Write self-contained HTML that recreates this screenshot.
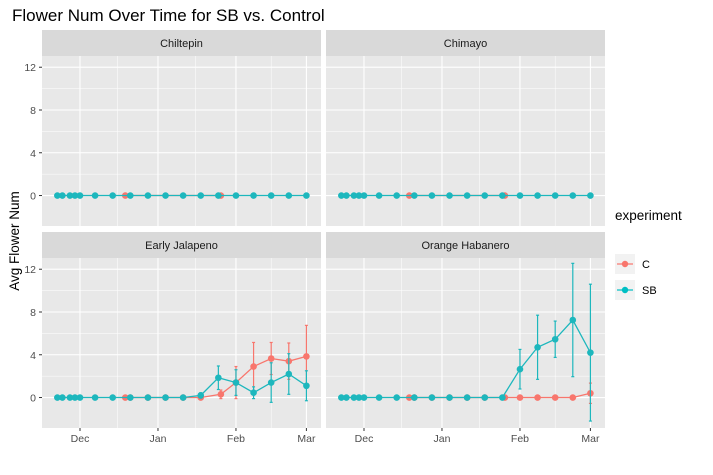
<!DOCTYPE html>
<html><head><meta charset="utf-8"><style>
body{margin:0;background:#fff;}
svg text{font-family:"Liberation Sans",sans-serif;}
</style></head><body>
<svg id="chart" width="713" height="470" xmlns="http://www.w3.org/2000/svg">
<text x="12" y="21" font-size="17" fill="#000">Flower Num Over Time for SB vs. Control</text>
<text transform="translate(19,241) rotate(-90)" text-anchor="middle" font-size="13.5" fill="#000">Avg Flower Num</text>
<g id="panels"></g>
<g>
<text x="615" y="220" font-size="13.5" fill="#000">experiment</text>
<rect x="615" y="254" width="20" height="20" fill="#f2f2f2"/>
<line x1="617" y1="264" x2="633" y2="264" stroke="#F8766D" stroke-width="1.2"/>
<circle cx="625" cy="264" r="3.2" fill="#F8766D"/>
<text x="642" y="268" font-size="11" fill="#000">C</text>
<rect x="615" y="280" width="20" height="20" fill="#f2f2f2"/>
<line x1="617" y1="290" x2="633" y2="290" stroke="#00BFC4" stroke-width="1.2"/>
<circle cx="625" cy="290" r="3.2" fill="#00BFC4"/>
<text x="642" y="294" font-size="11" fill="#000">SB</text>
</g>
</svg>
<script>
// days relative to Dec 1
const panelNames = ["Chiltepin","Chimayo","Early Jalapeno","Orange Habanero"];
const cDaysTop = [18,56];
const sbDays = [-9,-7,-4,-2,0,6,13,20,27,34,41,48,55,62,69,76,83,90];
const cDays = [18,20,27,34,41,48,56,62,69,76,83,90];
const jalC = [0,0,0,0,0,0,0.3,1.4,2.9,3.65,3.4,3.85];
const jalCErr = [0,0,0,0,0,0,0.4,1.5,2.25,1.5,1.7,2.9];
const jalSB = [0,0,0,0,0,0,0,0,0,0,0,0.2,1.85,1.4,0.45,1.4,2.2,1.1];
const jalSBErr = [0,0,0,0,0,0,0,0,0,0,0,0.25,1.1,1.2,0.55,1.85,1.9,1.4];
const habC = [0,0,0,0,0,0,0,0,0,0,0,0.4];
const habCErr = [0,0,0,0,0,0,0,0,0,0,0,0.95];
const habSB = [0,0,0,0,0,0,0,0,0,0,0,0,0,2.65,4.7,5.45,7.25,4.2];
const habSBErr = [0,0,0,0,0,0,0,0,0,0,0,0,0,1.85,3,1.7,5.3,6.4];
const yTicks = [0,4,8,12];
const xTickDays = [0,31,62,90];
const xTickLabels = ["Dec","Jan","Feb","Mar"];

const NS="http://www.w3.org/2000/svg";
const g=document.getElementById("panels");
function mk(tag,attrs,parent){const e=document.createElementNS(NS,tag);for(const k in attrs)e.setAttribute(k,attrs[k]);(parent||g).appendChild(e);return e;}
const zeros=n=>new Array(n).fill(0);
const panels=[
 {x:42,y:56,c:zeros(2),ce:zeros(2),cd:cDaysTop,sb:zeros(18),sbe:zeros(18)},
 {x:326,y:56,c:zeros(2),ce:zeros(2),cd:cDaysTop,sb:zeros(18),sbe:zeros(18)},
 {x:42,y:258,c:jalC,ce:jalCErr,cd:cDays,sb:jalSB,sbe:jalSBErr},
 {x:326,y:258,c:habC,ce:habCErr,cd:cDays,sb:habSB,sbe:habSBErr}];
const W=279,H=170,xmin=-15.1,xmax=95.8,ymin=-2.85,ymax=13.05;
panels.forEach((p,i)=>{
 const sx=d=>p.x+(d-xmin)/(xmax-xmin)*W;
 const sy=v=>p.y+H-(v-ymin)/(ymax-ymin)*H;
 const pg=mk("g",{});
 
 
 mk("rect",{x:p.x,y:p.y-26,width:W,height:26,fill:"#d9d9d9"},pg);
 const st=mk("text",{x:p.x+W/2,y:p.y-9,"text-anchor":"middle","font-size":"11",fill:"#1a1a1a"},pg);
 st.textContent=panelNames[i];
 
 
 mk("rect",{x:p.x,y:p.y,width:W,height:H,fill:"#e8e8e8"},pg);
 [2,6,10].forEach(v=>mk("line",{x1:p.x,x2:p.x+W,y1:sy(v),y2:sy(v),stroke:"#fff","stroke-width":0.5},pg));
 [15,46,76].forEach(d=>mk("line",{x1:sx(d),x2:sx(d),y1:p.y,y2:p.y+H,stroke:"#fff","stroke-width":0.5},pg));
 yTicks.forEach(v=>{mk("line",{x1:p.x,x2:p.x+W,y1:sy(v),y2:sy(v),stroke:"#fff","stroke-width":1.1},pg);
  if(p.x<100){mk("line",{x1:p.x-3,x2:p.x,y1:sy(v),y2:sy(v),stroke:"#333"},pg);
   const t=mk("text",{x:p.x-6,y:sy(v)+4,"text-anchor":"end","font-size":"10.5",fill:"#4d4d4d"},pg);t.textContent=v;
   }});
 xTickDays.forEach((d,k)=>{mk("line",{x1:sx(d),x2:sx(d),y1:p.y,y2:p.y+H,stroke:"#fff","stroke-width":1.1},pg);
  if(i>=2){mk("line",{x1:sx(d),x2:sx(d),y1:p.y+H,y2:p.y+H+3,stroke:"#333"},pg);
   const t=mk("text",{x:sx(d),y:p.y+H+14,"text-anchor":"middle","font-size":"10.5",fill:"#4d4d4d"},pg);t.textContent=xTickLabels[k];
   }});
 [[p.cd,p.c,p.ce,"#F8766D","c"],[sbDays,p.sb,p.sbe,"#1DB7BD","sb"]].forEach(([ds,vs,es,col,nm])=>{
  ds.forEach((d,k)=>{if(es[k]>0){
   mk("line",{x1:sx(d),x2:sx(d),y1:sy(vs[k]-es[k]),y2:sy(vs[k]+es[k]),stroke:col,"stroke-width":1.2},pg);
   mk("line",{x1:sx(d)-1.5,x2:sx(d)+1.5,y1:sy(vs[k]-es[k]),y2:sy(vs[k]-es[k]),stroke:col,"stroke-width":1.2},pg);
   mk("line",{x1:sx(d)-1.5,x2:sx(d)+1.5,y1:sy(vs[k]+es[k]),y2:sy(vs[k]+es[k]),stroke:col,"stroke-width":1.2},pg);}});
  const path=mk("polyline",{points:ds.map((d,k)=>sx(d)+","+sy(vs[k])).join(" "),fill:"none",stroke:col,"stroke-width":1.3},pg);
  
  
  ds.forEach((d,k)=>{const c=mk("circle",{cx:sx(d),cy:sy(vs[k]),r:3.3,fill:col},pg);
   
   });
 });
});
</script>
</body></html>
